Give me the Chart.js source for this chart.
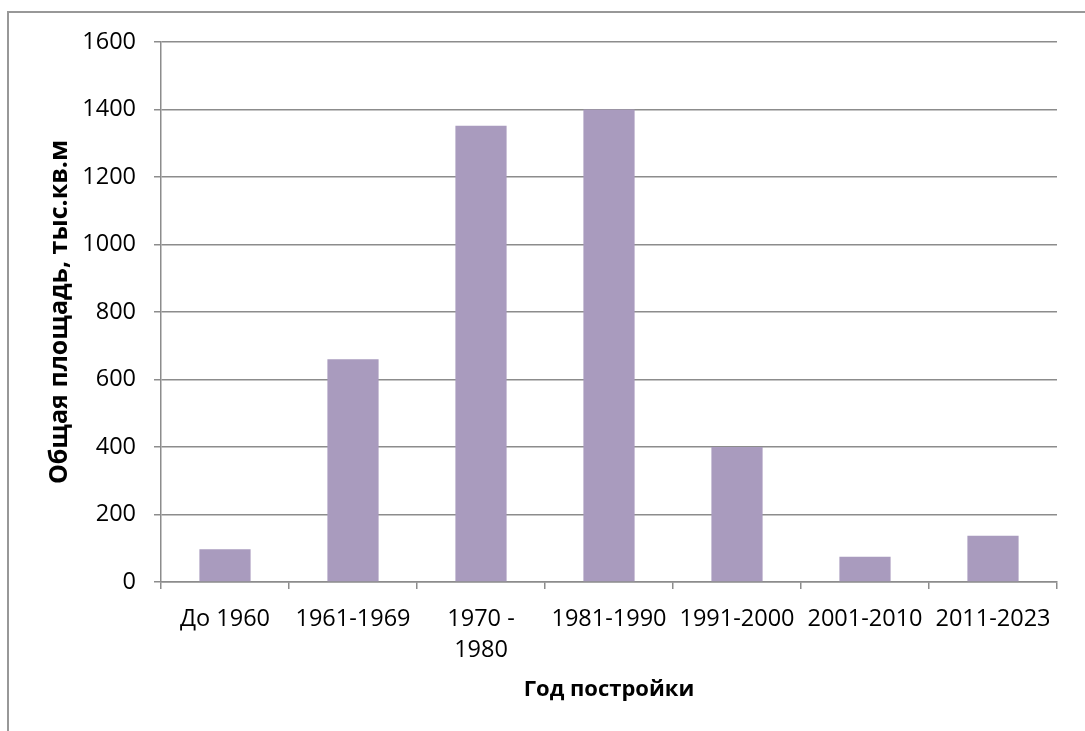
<!DOCTYPE html>
<html lang="ru">
<head>
<meta charset="utf-8">
<title>Общая площадь по году постройки</title>
<script src="https://cdn.jsdelivr.net/npm/chart.js@4"></script>
<style>
  html, body { margin: 0; padding: 0; background: #fff; overflow: hidden; }
  #wrap { position: relative; width: 1085px; height: 731px; }
  /* outer frame of the chart, cut off at the right and bottom edges */
  #frame { position: absolute; left: 7px; top: 11px; width: 1200px; height: 900px; border: 2px solid #989898; box-sizing: border-box; }
  #chart { position: absolute; left: 0; top: 0; }
</style>
</head>
<body>
<div id="wrap">
  <div id="frame"></div>
  <canvas id="chart" width="1085" height="731"></canvas>
</div>
<script>
/* Общая площадь жилфонда по периодам постройки (тыс. кв. м) */
const periods = ["До 1960", "1961-1969", ["1970 -", "1980"], "1981-1990", "1991-2000", "2001-2010", "2011-2023"];
const area = [97, 660, 1352, 1400, 400, 75, 137];
const yMin = 0, yMax = 1600, yStep = 200;

const FONT = "'Open Sans', 'Noto Sans', sans-serif";
const GRID = "#8c8c8c";

new Chart(document.getElementById("chart"), {
  type: "bar",
  data: {
    labels: periods,
    datasets: [{ data: area, backgroundColor: "#a99bbe", borderWidth: 0, barPercentage: 0.4, categoryPercentage: 1 }]
  },
  options: {
    responsive: false,
    animation: false,
    layout: { padding: { top: 42, right: 28, bottom: 0, left: 0 } },
    plugins: { legend: { display: false }, tooltip: { enabled: false } },
    scales: {
      x: {
        grid: { drawOnChartArea: false, drawTicks: true, tickLength: 7, color: GRID, lineWidth: 1.5, offset: true },
        border: { color: GRID, width: 1.5 },
        ticks: { color: "#000", font: { family: FONT, size: 23.5, lineHeight: 1.3 }, padding: 15, maxRotation: 0, autoSkip: false },
        title: { display: true, text: "Год постройки", color: "#000", font: { family: FONT, size: 22, weight: "bold", lineHeight: 1.2 }, padding: { top: 0, bottom: 28 } },
        afterFit: (s) => { s.height = 731 - 582; }
      },
      y: {
        min: yMin, max: yMax,
        grid: { color: GRID, lineWidth: 1.5, tickLength: 7 },
        border: { color: GRID, width: 1.5 },
        ticks: { stepSize: yStep, color: "#000", font: { family: FONT, size: 23.5 }, padding: 18, callback: (v) => String(v) },
        title: { display: true, text: "Общая площадь, тыс.кв.м", color: "#000", font: { family: FONT, size: 25, weight: "bold", lineHeight: 1.2 }, padding: { top: 45, bottom: 0 } },
        afterFit: (s) => { s.width = 161; }
      }
    }
  }
});
</script>
</body>
</html>
